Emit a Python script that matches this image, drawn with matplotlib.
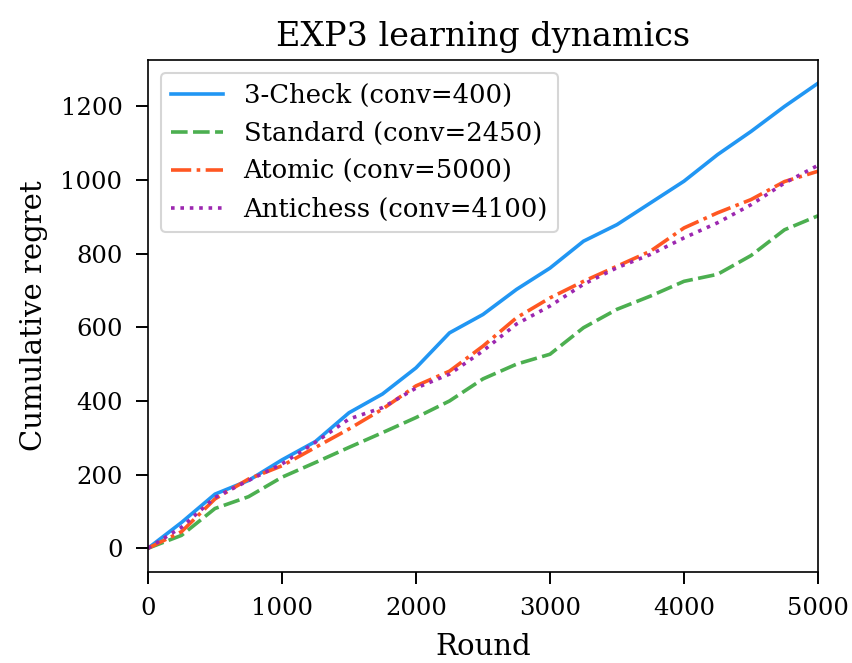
import matplotlib
matplotlib.use("Agg")
import matplotlib.pyplot as plt

rounds = [0, 250, 500, 750, 1000, 1250, 1500, 1750, 2000, 2250, 2500,
          2750, 3000, 3250, 3500, 3750, 4000, 4250, 4500, 4750, 5000]
check3 = [0, 70, 147, 184, 240, 290, 368, 419, 490, 585, 635,
          703, 761, 834, 879, 938, 997, 1069, 1132, 1200, 1263]
standard = [0, 35, 108, 140, 193, 233, 274, 314, 355, 400, 460,
            500, 527, 599, 649, 685, 725, 744, 795, 865, 903]
atomic = [0, 45, 134, 188, 224, 274, 324, 378, 441, 481, 549,
          626, 680, 725, 766, 807, 870, 911, 947, 996, 1024]
antichess = [0, 57, 138, 184, 229, 288, 351, 382, 435, 473, 536,
             609, 658, 717, 762, 798, 843, 884, 933, 992, 1040]

labels = ["3-Check (conv=400)", "Standard (conv=2450)",
          "Atomic (conv=5000)", "Antichess (conv=4100)"]
colors = ["#2196F3", "#4CAF50", "#FF5722", "#9C27B0"]

plt.rcParams['font.family'] = ['DejaVu Serif']

fig = plt.figure(figsize=(8.53, 6.63), dpi=100)
ax = fig.add_axes([148/853, 1-571.5/663, (818-148)/853, (571.5-60)/663])

lw = 2.6
ax.plot(rounds, check3, color=colors[0], lw=lw, ls='-', label=labels[0])
ax.plot(rounds, standard, color=colors[1], lw=lw, ls=(0, (4.6, 1.5)), label=labels[1])
ax.plot(rounds, atomic, color=colors[2], lw=lw, ls=(0, (5.6, 1.5, 1, 1.5)), label=labels[2])
ax.plot(rounds, antichess, color=colors[3], lw=lw, ls=(0, (1, 1.6)), label=labels[3])

ax.set_xlim(0, 5000)
ax.set_xticks([0, 1000, 2000, 3000, 4000, 5000])
ax.set_yticks([0, 200, 400, 600, 800, 1000, 1200])
ax.tick_params(labelsize=17.5, length=8.4, width=1.4, pad=10)
for s in ax.spines.values():
    s.set_linewidth(1.2)

ax.set_xlabel("Round", fontsize=21, labelpad=9)
ax.set_ylabel("Cumulative regret", fontsize=21, labelpad=9)
ax.set_title("EXP3 learning dynamics", fontsize=24, pad=10)

leg = ax.legend(loc='upper left', fontsize=18.6, borderaxespad=0.5)
leg.get_frame().set_linewidth(1.5)

fig.savefig("out.png", dpi=100)
